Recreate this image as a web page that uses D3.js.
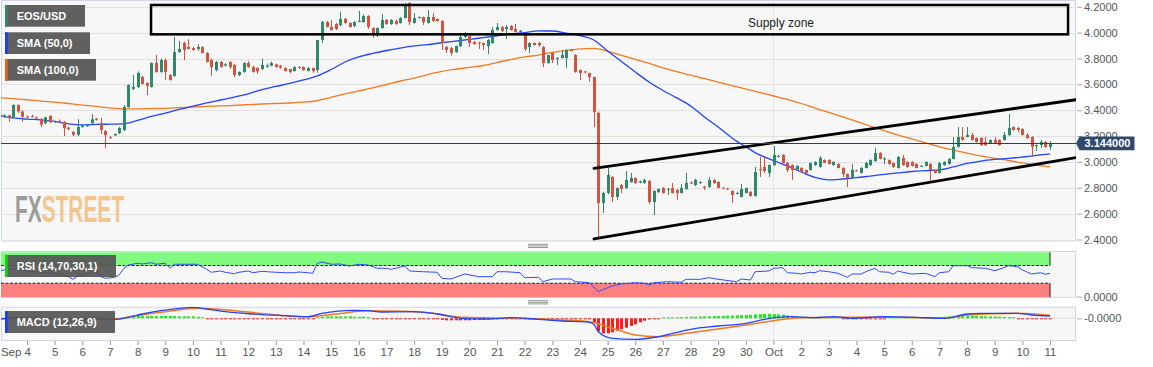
<!DOCTYPE html>
<html><head><meta charset="utf-8">
<script src="https://cdn.jsdelivr.net/npm/d3@7"></script>
<style>body{margin:0;background:#fff}svg{display:block}text{font-family:"Liberation Sans",Arial,sans-serif}</style>
</head><body><svg id="c" width="1153" height="367"></svg>
<script>
// ---------------- DATA ----------------
const startTime = "2019-09-03T00:00:00Z";   // first 4h candle
const candleHours = 4;
// [open, high, low, close] EOS/USD 4h
const ohlc = [
[3.344,3.371,3.332,3.355],[3.348,3.37,3.34,3.36],[3.36,3.365,3.31,3.345],[3.345,3.445,3.34,3.44],[3.44,3.445,3.38,3.39],
[3.39,3.40,3.31,3.35],[3.35,3.36,3.34,3.345],[3.355,3.365,3.345,3.35],[3.345,3.35,3.33,3.34],[3.33,3.34,3.27,3.29],
[3.30,3.35,3.29,3.345],[3.355,3.36,3.30,3.31],[3.31,3.32,3.30,3.315],[3.315,3.33,3.30,3.31],[3.31,3.315,3.20,3.26],
[3.265,3.27,3.245,3.255],[3.232,3.24,3.20,3.21],[3.21,3.33,3.20,3.27],[3.27,3.285,3.265,3.28],[3.28,3.29,3.27,3.285],
[3.30,3.37,3.29,3.33],[3.335,3.34,3.32,3.325],[3.30,3.34,3.215,3.247],[3.24,3.245,3.108,3.208],[3.19,3.20,3.18,3.185],
[3.205,3.22,3.20,3.216],[3.224,3.27,3.215,3.263],[3.247,3.44,3.24,3.425],[3.425,3.60,3.42,3.595],[3.565,3.672,3.556,3.58],
[3.58,3.70,3.57,3.688],[3.657,3.665,3.60,3.603],[3.611,3.615,3.518,3.588],[3.58,3.77,3.575,3.765],[3.765,3.827,3.69,3.696],
[3.696,3.80,3.69,3.788],[3.788,3.80,3.634,3.696],[3.672,3.68,3.63,3.634],[3.665,3.966,3.66,3.85],[3.85,3.935,3.845,3.874],
[3.92,3.93,3.788,3.866],[3.889,3.95,3.87,3.874],[3.881,3.89,3.86,3.866],[3.874,3.91,3.86,3.889],[3.889,3.895,3.84,3.843],
[3.843,3.85,3.77,3.773],[3.788,3.80,3.665,3.734],[3.711,3.78,3.70,3.773],[3.773,3.78,3.73,3.734],[3.745,3.765,3.74,3.755],
[3.773,3.78,3.72,3.734],[3.75,3.76,3.657,3.672],[3.672,3.70,3.665,3.696],[3.696,3.77,3.69,3.765],[3.765,3.78,3.73,3.734],
[3.734,3.745,3.69,3.696],[3.727,3.73,3.68,3.70],[3.719,3.80,3.71,3.75],[3.735,3.76,3.73,3.745],[3.745,3.775,3.74,3.765],
[3.755,3.76,3.73,3.735],[3.745,3.75,3.72,3.73],[3.727,3.73,3.70,3.703],[3.719,3.72,3.688,3.696],[3.703,3.74,3.70,3.734],
[3.734,3.74,3.72,3.727],[3.734,3.74,3.705,3.711],[3.703,3.735,3.70,3.727],[3.727,3.73,3.69,3.703],[3.711,3.943,3.69,3.943],
[3.943,4.09,3.92,4.082],[4.082,4.09,4.04,4.044],[4.044,4.098,4.015,4.021],[4.067,4.075,4.02,4.028],[4.059,4.16,4.05,4.106],
[4.106,4.115,4.07,4.075],[4.075,4.08,4.04,4.044],[4.052,4.09,4.045,4.082],[4.085,4.168,4.08,4.09],[4.082,4.14,4.078,4.129],
[4.129,4.135,4.03,4.044],[4.036,4.04,3.96,3.997],[3.982,4.04,3.966,4.036],[4.036,4.145,4.03,4.098],[4.098,4.105,4.06,4.067],
[4.067,4.105,4.06,4.098],[4.09,4.10,4.06,4.067],[4.075,4.12,4.07,4.113],[4.113,4.229,4.11,4.214],[4.229,4.235,4.059,4.082],
[4.075,4.15,4.07,4.113],[4.113,4.125,4.11,4.121],[4.121,4.125,4.059,4.082],[4.075,4.175,4.07,4.121],[4.121,4.15,4.085,4.09],
[4.106,4.11,4.085,4.09],[4.09,4.095,3.866,3.92],[3.889,3.895,3.843,3.866],[3.881,3.89,3.822,3.843],[3.85,3.90,3.845,3.897],
[3.897,3.997,3.89,3.966],[3.966,4.005,3.96,3.982],[3.974,3.98,3.889,3.92],[3.928,3.935,3.905,3.912],[3.925,3.93,3.874,3.918],
[3.92,3.925,3.866,3.904],[3.897,3.95,3.835,3.943],[3.92,4.044,3.915,4.021],[4.021,4.075,4.015,4.044],[4.044,4.05,4.005,4.013],
[4.028,4.059,3.95,4.044],[4.052,4.06,4.015,4.021],[4.028,4.067,4.0,4.005],[4.005,4.02,4.0,4.013],[3.997,4.0,3.858,3.874],
[3.889,3.925,3.843,3.92],[3.92,3.925,3.90,3.904],[3.92,3.93,3.889,3.904],[3.889,3.895,3.734,3.765],[3.765,3.83,3.76,3.827],
[3.843,3.85,3.765,3.788],[3.796,3.81,3.75,3.804],[3.804,3.866,3.80,3.827],[3.804,3.87,3.727,3.866],[3.866,3.875,3.855,3.86],
[3.827,3.835,3.69,3.696],[3.711,3.715,3.634,3.688],[3.70,3.705,3.685,3.692],[3.688,3.69,3.62,3.657],[3.657,3.66,3.27,3.386],
[3.379,3.39,2.40,2.683],[2.683,2.77,2.605,2.76],[2.76,2.953,2.75,2.899],[2.884,2.89,2.69,2.729],[2.729,2.80,2.706,2.799],
[2.822,2.83,2.76,2.791],[2.799,2.93,2.79,2.861],[2.845,2.915,2.84,2.876],[2.876,2.88,2.83,2.837],[2.84,2.855,2.835,2.85],
[2.837,2.87,2.83,2.861],[2.853,2.86,2.675,2.69],[2.69,2.78,2.59,2.775],[2.768,2.795,2.76,2.791],[2.799,2.805,2.755,2.76],
[2.785,2.80,2.745,2.791],[2.799,2.837,2.755,2.76],[2.783,2.79,2.706,2.76],[2.76,2.83,2.755,2.799],[2.791,2.915,2.785,2.837],
[2.84,2.85,2.83,2.837],[2.822,2.87,2.815,2.861],[2.84,2.85,2.83,2.845],[2.81,2.815,2.783,2.80],[2.806,2.884,2.80,2.861],
[2.861,2.865,2.83,2.837],[2.845,2.85,2.795,2.799],[2.80,2.805,2.79,2.795],[2.795,2.80,2.783,2.788],[2.775,2.78,2.683,2.745],
[2.755,2.77,2.75,2.76],[2.729,2.83,2.725,2.791],[2.76,2.80,2.755,2.799],[2.768,2.775,2.73,2.737],[2.737,2.961,2.73,2.922],
[2.945,3.038,2.884,2.938],[2.96,3.038,2.915,2.93],[2.915,2.98,2.884,2.976],[2.976,3.123,2.97,3.054],[3.04,3.055,3.035,3.046],
[3.054,3.06,2.99,2.992],[2.992,3.0,2.922,2.938],[2.976,2.98,2.861,2.938],[2.938,2.975,2.935,2.969],[2.953,2.96,2.92,2.922],
[2.938,2.94,2.91,2.915],[2.938,2.995,2.935,2.992],[2.976,3.005,2.97,3.0],[2.961,3.046,2.955,3.031],[3.015,3.02,2.99,2.992],
[3.015,3.02,2.98,2.984],[2.976,3.005,2.97,3.0],[2.984,2.99,2.95,2.953],[2.953,2.96,2.884,2.907],[2.907,2.91,2.806,2.876],
[2.876,2.984,2.87,2.938],[2.935,2.94,2.925,2.93],[2.915,2.96,2.91,2.953],[2.953,3.0,2.95,2.992],[2.976,3.02,2.97,3.015],
[3.007,3.108,3.0,3.069],[3.069,3.075,3.02,3.023],[3.02,3.038,2.984,3.026],[3.015,3.02,2.98,2.984],[2.992,2.995,2.953,2.961],
[2.953,3.045,2.95,3.038],[3.031,3.054,2.97,2.976],[3.0,3.005,2.955,2.961],[3.0,3.005,2.965,2.969],[2.984,2.99,2.95,2.953],
[2.965,2.975,2.96,2.97],[2.969,3.005,2.965,3.0],[2.984,2.99,2.845,2.938],[2.938,2.94,2.91,2.915],[2.915,3.0,2.91,2.992],
[2.976,3.005,2.97,3.0],[2.984,3.03,2.98,3.023],[3.023,3.193,3.02,3.116],[3.116,3.27,3.11,3.193],[3.193,3.27,3.165,3.17],
[3.193,3.27,3.19,3.208],[3.208,3.224,3.165,3.17],[3.185,3.19,3.15,3.154],[3.185,3.19,3.125,3.131],[3.154,3.193,3.125,3.131],
[3.147,3.175,3.14,3.17],[3.17,3.193,3.14,3.147],[3.17,3.175,3.125,3.131],[3.17,3.232,3.165,3.208],[3.208,3.371,3.2,3.263],
[3.27,3.275,3.24,3.247],[3.263,3.27,3.232,3.247],[3.255,3.26,3.205,3.208],[3.208,3.224,3.18,3.185],[3.193,3.2,3.038,3.116],
[3.125,3.135,3.085,3.131],[3.131,3.17,3.108,3.154],[3.154,3.16,3.11,3.116],[3.116,3.16,3.092,3.144]
];
const lastPrice = 3.144;
// SMA values every 12h starting Sep 3 00:00
const smaStep = 12;
const sma50 = [3.358,3.340,3.331,3.325,3.313,3.294,3.286,3.290,3.292,3.294,
3.321,3.352,3.377,3.406,3.431,3.456,3.479,3.502,3.526,3.560,
3.584,3.607,3.634,3.665,3.715,3.773,3.812,3.839,3.862,3.881,
3.897,3.908,3.922,3.935,3.948,3.962,3.976,3.990,4.001,4.013,
4.013,3.997,3.978,3.943,3.858,3.777,3.696,3.618,3.553,3.495,
3.433,3.348,3.270,3.185,3.116,3.054,3.011,2.969,2.922,2.880,
2.861,2.868,2.878,2.891,2.903,2.915,2.926,2.932,2.938,2.961,
2.988,3.007,3.019,3.027,3.038,3.050,3.062];
const sma100 = [3.498,3.489,3.481,3.471,3.462,3.452,3.440,3.430,3.417,3.410,
3.410,3.413,3.415,3.420,3.425,3.430,3.433,3.438,3.443,3.448,
3.452,3.456,3.462,3.475,3.500,3.526,3.549,3.572,3.599,3.626,
3.649,3.676,3.701,3.717,3.731,3.746,3.769,3.792,3.812,3.827,
3.847,3.862,3.875,3.878,3.856,3.825,3.794,3.762,3.728,3.698,
3.671,3.644,3.617,3.590,3.564,3.538,3.510,3.483,3.452,3.417,
3.383,3.348,3.313,3.278,3.243,3.208,3.178,3.147,3.117,3.092,
3.069,3.046,3.027,3.011,2.992,2.976,2.961];
// RSI(14): [candle index, value]
const rsi = [[0,58.4],[2,61.5],[4,61.5],[6,58.4],[9,54.8],[12,52.5],[15,44.8],[16,38.9],[17,46.4],[19,52.5],[21,57.7],[22,44.8],[23,41.2],[25,43.4],[26,48.6],[27,63.8],[28,71.3],[30,75.1],[31,73.5],[33,76.5],[34,72.9],[36,75.1],[37,63.8],[38,72.9],[41,72.9],[43,72.9],[45,61.5],[46,54.8],[48,57.7],[49,54.8],[51,51.6],[52,54.8],[54,57.7],[55,53.8],[57,57],[59,55.4],[62,53.8],[64,53.8],[65,55.4],[67,53.8],[68,52.5],[69,75.1],[70,78],[72,72.9],[74,73.5],[76,69],[78,72.9],[80,71.3],[82,63.8],[84,63.8],[85,61.5],[88,69],[89,57.7],[92,56],[95,54.8],[96,41.2],[98,39.6],[101,50.9],[104,44.8],[107,44.8],[108,56],[110,56],[113,53.8],[114,42.5],[117,43.4],[118,33.5],[120,39.6],[124,39.6],[125,33.5],[128,31.2],[130,10.9],[132,19.9],[133,23.8],[135,28.3],[138,31.2],[140,29.9],[141,26],[142,31.2],[145,33.5],[148,32.1],[149,38.9],[152,38.9],[154,42.5],[156,38.9],[160,33.5],[161,39.6],[163,37.3],[164,56],[167,57.7],[168,63.8],[170,65.2],[171,53.8],[173,52.5],[174,50.9],[176,54.8],[177,53.8],[178,58.4],[180,56],[182,52.5],[184,43.4],[185,50.9],[187,50.9],[188,56],[190,63.8],[191,56],[193,54.8],[194,50.2],[195,57.7],[196,54.8],[198,50.9],[201,52.5],[203,44.8],[204,53.8],[206,56],[207,69.7],[210,69.7],[211,65.2],[214,63.8],[216,58.4],[218,65.2],[219,69.7],[221,67.4],[222,60],[224,50.9],[225,52.5],[226,53.8],[227,50.2],[228,52.5]];
const rsiUpper = 70, rsiLower = 30;
// MACD(12,26,9): [candle index, value]
const macdLine = [[0,-0.0035],[4,0.003],[9,0],[15,-0.0035],[22,-0.0035],[25,-0.005],[28,0.005],[31,0.0215],[35,0.038],[39,0.05],[42,0.055],[45,0.0465],[49,0.033],[55,0.0215],[62,0.013],[67,0.008],[70,0.025],[73,0.035],[77,0.04],[80,0.038],[83,0.0315],[90,0.033],[95,0.0215],[101,-0.002],[106,-0.0035],[111,0.003],[117,-0.005],[122,-0.0135],[128,-0.02],[129,-0.03],[130,-0.067],[133,-0.1],[138,-0.105],[143,-0.092],[150,-0.055],[156,-0.0385],[162,-0.025],[166,-0.005],[169,0.005],[172,0.008],[177,0.003],[181,0.008],[185,0],[192,0.008],[199,0.005],[205,0],[210,0.0215],[213,0.025],[221,0.025],[224,0.0165],[228,0.0115]];
const signalLine = [[0,-0.002],[25,-0.002],[29,0.0115],[36,0.033],[43,0.05],[51,0.038],[58,0.0215],[67,0.008],[73,0.0215],[80,0.038],[87,0.035],[93,0.028],[101,0.005],[111,0],[122,-0.0085],[128,-0.017],[132,-0.042],[138,-0.0835],[143,-0.092],[150,-0.072],[157,-0.05],[162,-0.0335],[168,-0.012],[174,0.003],[185,0.005],[195,0.005],[205,0.0015],[210,0.0165],[221,0.025],[228,0.015]];
const macdHist = [
-0.001,-0.001,-0.001,-0.001,-0.001,-0.001,-0.001,-0.001,-0.001,-0.001,
-0.001,-0.001,-0.001,-0.001,-0.001,-0.001,-0.001,-0.001,-0.001,-0.001,
-0.001,-0.001,-0.001,-0.001,-0.001,-0.001,-0.001,0.004,0.008,0.01,
0.012,0.012,0.012,0.012,0.012,0.012,0.012,0.012,0.012,0.01,
0.01,0.01,0.01,0.008,0.005,-0.002,-0.002,-0.002,-0.002,-0.002,
-0.002,-0.002,-0.002,-0.002,-0.002,-0.002,-0.002,-0.002,-0.002,-0.002,
-0.002,-0.002,-0.002,-0.002,-0.002,-0.002,-0.002,-0.002,-0.002,0.004,
0.008,0.01,0.01,0.01,0.01,0.01,0.01,0.008,0.008,0.008,
0.006,-0.002,-0.002,-0.002,-0.002,-0.002,-0.002,-0.002,-0.002,-0.002,
-0.002,-0.002,-0.002,-0.002,-0.002,-0.002,-0.008,-0.01,-0.01,-0.01,
-0.01,-0.01,-0.01,-0.009,-0.008,-0.008,-0.006,-0.002,-0.002,-0.002,
-0.002,-0.002,-0.002,-0.002,-0.002,-0.002,-0.002,-0.002,-0.002,-0.002,
-0.002,-0.002,-0.002,-0.002,-0.002,-0.002,-0.002,-0.002,-0.002,-0.02,
-0.065,-0.075,-0.075,-0.07,-0.062,-0.055,-0.047,-0.038,-0.03,-0.02,
-0.012,-0.006,-0.003,-0.002,0.002,0.003,0.004,0.005,0.006,0.007,
0.008,0.008,0.009,0.01,0.01,0.011,0.012,0.012,0.013,0.014,
0.015,0.016,0.017,0.018,0.02,0.021,0.022,0.022,0.021,0.02,
0.018,0.015,0.012,0.008,0.004,0.002,0.002,0.002,0.002,0.002,
0.002,0.002,0.001,-0.002,-0.002,-0.002,-0.002,-0.002,-0.002,-0.002,
-0.002,-0.002,-0.002,0.001,0.001,0.001,0.001,0.001,0.001,0.001,
0.002,0.003,0.004,0.005,0.006,0.008,0.01,0.012,0.012,0.012,
0.012,0.012,0.012,0.011,0.01,0.01,0.009,0.008,0.007,0.006,
0.004,-0.003,-0.004,-0.005,-0.005,-0.005,-0.005,-0.005,-0.005];
const priceTicks = [2.4,2.6,2.8,3.0,3.2,3.4,3.6,3.8,4.0,4.2];
const dayLabels = ["Sep 4","5","6","7","8","9","10","11","12","13","14","15","16","17","18","19","20","21","22","23","24","25","26","27","28","29","30","Oct","2","3","4","5","6","7","8","9","10","11"];
const firstDay = "2019-09-04T00:00:00Z";
// annotations (time, price)
const supplyZone = {from:"2019-09-08T11:40:00Z", to:"2019-10-11T15:40:00Z", top:4.214, bottom:3.987, label:"Supply zone", labelAt:"2019-10-01T06:30:00Z", labelPrice:4.075};
const channelUpper = [["2019-09-24T12:10:00Z",2.951],["2019-10-11T22:30:00Z",3.481]];
const channelLower = [["2019-09-24T12:10:00Z",2.404],["2019-10-11T22:30:00Z",3.033]];
const legendItems = [{label:"EOS/USD",color:"#2f8a6c"},{label:"SMA (50,0)",color:"#1a3cff"},{label:"SMA (100,0)",color:"#f06010"}];

// ---------------- CHART ----------------
const svg = d3.select("#c");
const HOUR = 3600e3;
const t0 = Date.parse(startTime);
const cTime = i => new Date(t0 + i*candleHours*HOUR);
const L = 1, R = 1076;
const x = d3.scaleUtc().domain([new Date("2019-09-04T00:00:00Z"), new Date("2019-10-11T00:00:00Z")]).range([27,1050]);
const y = d3.scaleLinear().domain([2.4,4.2]).range([239.5,6.8]);
const yR = d3.scaleLinear().domain([0,100]).range([296.5,252.3]);
const yM = d3.scaleLinear().domain([-0.112,0.058]).range([340.7,306.7]);
const UP="#2f8a6c", DN="#d6543f", BLUE="#2244ff", ORANGE="#f47920";
const days = dayLabels.map((_,i)=>new Date(Date.parse(firstDay)+i*24*HOUR));
const octX = x(days[dayLabels.indexOf("Oct")]);

const defs = svg.append("defs");
function clip(id,y0,y1){defs.append("clipPath").attr("id",id).append("rect").attr("x",L).attr("y",y0).attr("width",R-L).attr("height",y1-y0);}
clip("cm",0,241); clip("cr",251,297.5); clip("cd",306.7,340.7);
const grad = defs.append("linearGradient").attr("id","wmg").attr("gradientUnits","userSpaceOnUse")
  .attr("x1",15).attr("x2",124).attr("y1",0).attr("y2",0);
grad.append("stop").attr("offset",0.235).attr("stop-color","#9c9c9c");
grad.append("stop").attr("offset",0.235).attr("stop-color","#f3c68f");

function panel(y0,y1){
  svg.append("rect").attr("x",L+0.5).attr("y",y0+0.5).attr("width",R-L-1).attr("height",y1-y0-1)
    .attr("fill","#f7f7f7").attr("stroke","#cfd6e6").attr("stroke-width",1);
  svg.append("line").attr("x1",octX).attr("x2",octX).attr("y1",y0+1).attr("y2",y1-1).attr("stroke","#e2e2e2");
}
panel(0,241.5); panel(251,297.8); panel(306.7,341);

// ---- main panel
const gm = svg.append("g").attr("clip-path","url(#cm)");
gm.selectAll("line.grid").data(priceTicks).join("line").attr("class","grid")
  .attr("x1",L).attr("x2",R).attr("y1",d=>Math.round(y(d))+0.5).attr("y2",d=>Math.round(y(d))+0.5)
  .attr("stroke","#e1e1e1");
// watermark (one text, two colours)
svg.append("text").attr("x",15).attr("y",222)
  .attr("font-family","'DejaVu Sans Condensed','DejaVu Sans',sans-serif").attr("font-weight","bold").attr("font-size",37)
  .attr("textLength",109).attr("lengthAdjust","spacingAndGlyphs").attr("fill","url(#wmg)").text("FXSTREET");

// SMAs
const smaT = j => new Date(t0 + j*smaStep*HOUR);
const lineS = d3.line().x((d,j)=>x(smaT(j))).y(d=>y(d)).curve(d3.curveMonotoneX);
gm.append("path").attr("d",lineS(sma100)).attr("fill","none").attr("stroke",ORANGE).attr("stroke-width",1.3);
gm.append("path").attr("d",lineS(sma50)).attr("fill","none").attr("stroke",BLUE).attr("stroke-width",1.3);

// candles
const cg = gm.selectAll("g.cd").data(ohlc).join("g").attr("class","cd");
cg.append("line").attr("x1",(d,i)=>Math.round(x(cTime(i)))+0.5).attr("x2",(d,i)=>Math.round(x(cTime(i)))+0.5)
  .attr("y1",d=>y(d[1])).attr("y2",d=>y(d[2])).attr("stroke",d=>d[3]>=d[0]?UP:DN).attr("stroke-width",1);
cg.append("rect").attr("x",(d,i)=>Math.round(x(cTime(i)))-1).attr("width",3)
  .attr("y",d=>y(Math.max(d[0],d[3]))).attr("height",d=>Math.max(1,Math.abs(y(d[0])-y(d[3]))))
  .attr("fill",d=>d[3]>=d[0]?UP:DN);

// channel
[channelUpper,channelLower].forEach(c=>{
  gm.append("line").attr("x1",x(new Date(c[0][0]))).attr("y1",y(c[0][1])).attr("x2",x(new Date(c[1][0]))).attr("y2",y(c[1][1]))
    .attr("stroke","#000").attr("stroke-width",2.8).attr("stroke-linecap","round");
});
// supply zone
gm.append("rect").attr("x",x(new Date(supplyZone.from))).attr("y",y(supplyZone.top))
  .attr("width",x(new Date(supplyZone.to))-x(new Date(supplyZone.from))).attr("height",y(supplyZone.bottom)-y(supplyZone.top))
  .attr("fill","none").attr("stroke","#000").attr("stroke-width",2.5);
gm.append("text").attr("x",x(new Date(supplyZone.labelAt))).attr("y",y(supplyZone.labelPrice)).attr("dy","0.35em")
  .attr("text-anchor","middle").attr("font-size",12).attr("fill","#222").text(supplyZone.label);
// last price line
gm.append("line").attr("x1",L).attr("x2",R).attr("y1",Math.round(y(lastPrice))+0.5).attr("y2",Math.round(y(lastPrice))+0.5)
  .attr("stroke","#2a3f60").attr("stroke-width",1);

// right axis
const ax = svg.append("g").attr("transform",`translate(${R},0)`)
  .call(d3.axisRight(y).tickValues(priceTicks).tickFormat(d3.format(".4f")).tickSize(5).tickPadding(3));
ax.select(".domain").remove();
ax.selectAll("line").attr("stroke","#aaa").attr("transform","translate(1,0)");
ax.selectAll("text").attr("font-size",11).attr("fill","#555").attr("font-family","'Liberation Sans',Arial,sans-serif");
// price box
const py = y(lastPrice);
svg.append("path").attr("d",`M${R},${py} L${R+3.5},${py-6.7} L1134.5,${py-6.7} L1134.5,${py+7} L${R+3.5},${py+7} Z`).attr("fill","#2f4a6e");
svg.append("text").attr("x",1084.5).attr("y",py).attr("dy","0.36em").attr("fill","#fff").attr("font-size",11).attr("font-weight","bold").text(lastPrice.toFixed(6));

// legend
const lg = svg.append("g");
legendItems.forEach((d,k)=>{
  const ty = [5,32.3,59][k], w = [80,85,91][k];
  lg.append("rect").attr("x",5).attr("y",ty).attr("width",w).attr("height",21.7).attr("fill","#606060");
  lg.append("rect").attr("x",5).attr("y",ty).attr("width",2.7).attr("height",21.7).attr("fill",d.color);
  lg.append("text").attr("x",16.7).attr("y",ty+11).attr("dy","0.36em").attr("fill","#fff").attr("font-size",11).attr("font-weight","bold").text(d.label);
});

// drag handles
[[244.3,245.9,247.5],[300.7,302.3,303.9]].forEach(a=>a.forEach(v=>
  svg.append("line").attr("x1",528).attr("x2",548).attr("y1",v).attr("y2",v).attr("stroke","#777").attr("stroke-width",0.8)));

// ---- RSI panel
const gr = svg.append("g").attr("clip-path","url(#cr)");
const bandR = x(cTime(ohlc.length-1));
gr.append("rect").attr("x",L).attr("y",yR(100)).attr("width",bandR-L).attr("height",yR(rsiUpper)-yR(100)).attr("fill","#80fb80");
gr.append("rect").attr("x",L).attr("y",yR(rsiLower)).attr("width",bandR-L).attr("height",yR(0)-yR(rsiLower)+1).attr("fill","#fc8080");
[rsiUpper,rsiLower].forEach(v=>gr.append("line").attr("x1",L).attr("x2",bandR).attr("y1",yR(v)).attr("y2",yR(v))
  .attr("stroke","#111").attr("stroke-width",0.9).attr("stroke-dasharray","3,1.5"));
gr.append("line").attr("x1",bandR).attr("x2",bandR).attr("y1",yR(100)).attr("y2",yR(rsiUpper)).attr("stroke","#222");
gr.append("line").attr("x1",bandR).attr("x2",bandR).attr("y1",yR(rsiLower)).attr("y2",yR(0)+1).attr("stroke","#222");
gr.append("path").attr("d",d3.line().x(d=>x(cTime(d[0]))).y(d=>yR(d[1]))(rsi)).attr("fill","none").attr("stroke","#2d4cff").attr("stroke-width",1);
const rsiAx = svg.append("g").attr("transform",`translate(${R},0)`)
  .call(d3.axisRight(yR).tickValues([0]).tickFormat(d3.format(".4f")).tickSize(5).tickPadding(3));
rsiAx.select(".domain").remove();
rsiAx.selectAll("line").attr("stroke","#aaa").attr("transform","translate(1,0)");
rsiAx.selectAll("text").attr("font-size",11).attr("fill","#555").attr("font-family","'Liberation Sans',Arial,sans-serif");
svg.append("rect").attr("x",5).attr("y",255).attr("width",111).attr("height",22).attr("fill","#555").attr("opacity",0.92);
svg.append("rect").attr("x",5).attr("y",255).attr("width",2.7).attr("height",22).attr("fill","#00e000");
svg.append("text").attr("x",16.7).attr("y",266).attr("dy","0.36em").attr("fill","#fff").attr("font-size",11).attr("font-weight","bold").text("RSI (14,70,30,1)");

// ---- MACD panel
const gd = svg.append("g").attr("clip-path","url(#cd)");
gd.append("line").attr("x1",L).attr("x2",R).attr("y1",yM(0)).attr("y2",yM(0)).attr("stroke","#dcdcdc");
gd.selectAll("rect.h").data(macdHist).join("rect").attr("class","h")
  .attr("x",(d,i)=>Math.round(x(cTime(i)))-1).attr("width",3)
  .attr("y",d=>d>=0?yM(0)-Math.max(1,yM(0)-yM(d)):yM(0))
  .attr("height",d=>Math.max(1,Math.abs(yM(d)-yM(0))))
  .attr("fill",d=>d>=0?"#22ee22":"#ff1a1a");
const lineM = d3.line().x(d=>x(cTime(d[0]))).y(d=>yM(d[1])).curve(d3.curveMonotoneX);
gd.append("path").attr("d",lineM(signalLine)).attr("fill","none").attr("stroke",ORANGE).attr("stroke-width",1.5);
gd.append("path").attr("d",lineM(macdLine)).attr("fill","none").attr("stroke",BLUE).attr("stroke-width",1.3);
const mAx = svg.append("g").attr("transform",`translate(${R},0)`)
  .call(d3.axisRight(yM).tickValues([0]).tickFormat(()=>"-0.0000").tickSize(5).tickPadding(3));
mAx.select(".domain").remove();
mAx.selectAll("line").attr("stroke","#aaa").attr("transform","translate(1,0)");
mAx.selectAll("text").attr("font-size",11).attr("fill","#555").attr("font-family","'Liberation Sans',Arial,sans-serif");
svg.append("rect").attr("x",5).attr("y",311).attr("width",110).attr("height",22).attr("fill","#555").attr("opacity",0.92);
svg.append("rect").attr("x",5).attr("y",311).attr("width",2.7).attr("height",22).attr("fill","#1a3cff");
svg.append("text").attr("x",16.7).attr("y",322).attr("dy","0.36em").attr("fill","#fff").attr("font-size",11).attr("font-weight","bold").text("MACD (12,26,9)");

// ---- x axis
const xa = svg.append("g").attr("transform","translate(0,341)")
  .call(d3.axisBottom(x).tickValues(days).tickFormat((d,i)=>dayLabels[i]).tickSize(4).tickPadding(3));
xa.select(".domain").remove();
xa.selectAll("line").attr("stroke","#999");
xa.selectAll("text").attr("font-size",11.5).attr("fill","#555").attr("font-family","'Liberation Sans',Arial,sans-serif");
xa.selectAll("text").filter((d,i)=>i===0).attr("text-anchor","end").attr("dx",3.5);
</script></body></html>
